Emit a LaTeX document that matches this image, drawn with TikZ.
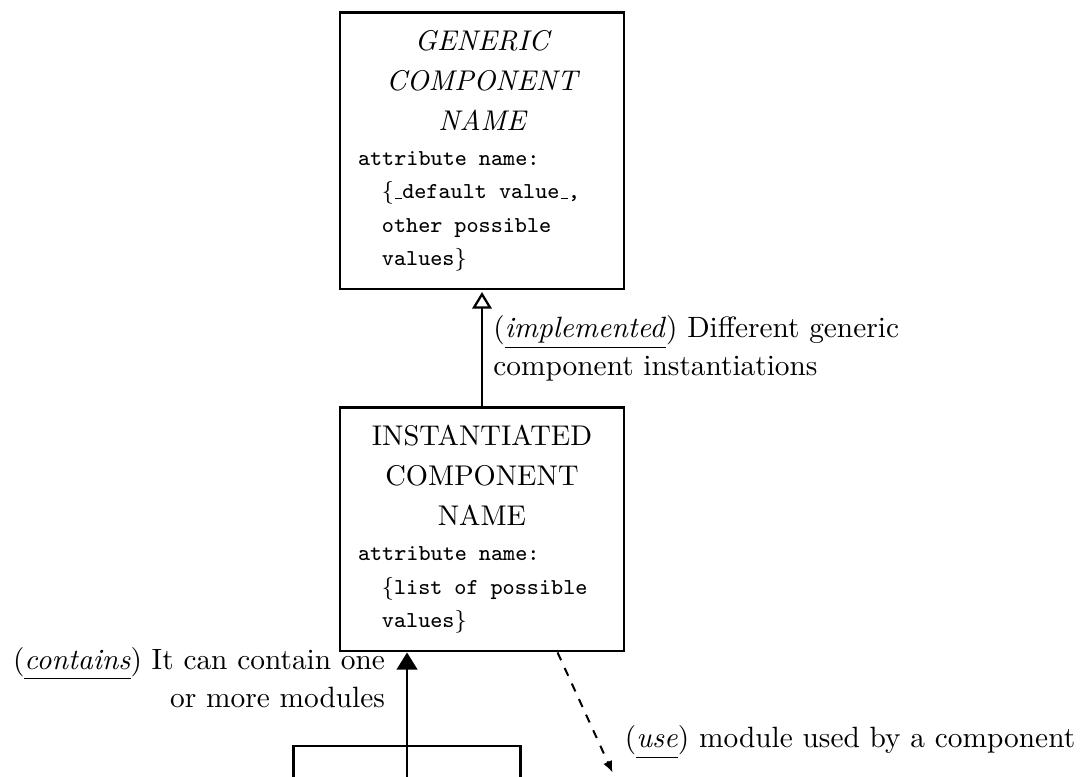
\documentclass[tikz,border=0pt]{standalone}
\usepackage{tikz}
\usetikzlibrary{positioning,arrows.meta,calc}

% tt attribute lines and the short low bar round a default value
\newcommand{\attrtt}{\fontsize{8}{11.7}\selectfont\ttfamily
  \spaceskip=4.2pt\relax\xspaceskip=4.2pt\relax}
\newcommand{\lowbar}{\leavevmode\kern.06em\vbox{\hrule width.3em}}
\newcommand{\uterm}[1]{\underline{\textit{#1}\vphantom{p}}}

\begin{document}
\begin{tikzpicture}[
  font=\fontsize{10}{14}\selectfont,
  comp/.style={draw=black, line width=0.9pt, minimum width=99.6pt, text width=87pt,
               inner xsep=6pt, inner ysep=6.3pt, align=left},
  module/.style={draw=black, line width=0.9pt, minimum width=79.6pt, minimum height=40pt},
  impl/.style={-{Triangle[open, length=5.8pt, width=6.8pt]}, line width=0.8pt, shorten >=0.6pt},
  cont/.style={-{Triangle[length=6pt, width=7.2pt]}, line width=0.8pt},
  usearr/.style={-{Latex[length=4pt, width=3.4pt]}, dashed, line width=0.7pt},
  lbl/.style={font=\fontsize{10.3}{13.3}\selectfont},
]
\useasboundingbox (0,0) rectangle (379.6pt,-272.3pt);
\clip (0,0) rectangle (379.6pt,-272.3pt);

% ---- generic component ----
\node[comp, anchor=north] (gen) at (169.1pt,-3.9pt)
  {{\centering\itshape GENERIC\\COMPONENT\\NAME\par}\vspace{0.6pt}
   {\attrtt attribute name:\\
    \hspace*{8.4pt}$\{$\lowbar default value\lowbar,\\
    \hspace*{8.4pt}other possible\\
    \hspace*{8.4pt}values$\}$\par}};

% ---- instantiated component ----
\node[comp, below=40.7pt of gen] (inst)
  {{\centering INSTANTIATED\\COMPONENT\\NAME\par}\vspace{0.6pt}
   {\attrtt attribute name:\\
    \hspace*{8.4pt}$\{$list of possible\\
    \hspace*{8.4pt}values$\}$\par}};

% ---- module (cut by the page edge) ----
\node[module, below=32.3pt of inst, xshift=-26.3pt] (module) {};

% ---- flows ----
\draw[impl] (inst) -- node[lbl, right, align=left, inner xsep=3.6pt]
  {(\uterm{implemented}) Different generic\\component instantiations} (gen);
\draw[cont] (module.center) -- (module.center |- inst.south)
  node[lbl, anchor=north east, align=right, xshift=-4pt, yshift=5.6pt]
  {(\uterm{contains}) It can contain one\\or more modules};

\coordinate (usefrom) at ([xshift=26.5pt]inst.south);
\coordinate (useto) at ($(usefrom)+(19.3pt,-42.1pt)$);
\draw[usearr] (usefrom) -- node[lbl, pos=0.75, right=5.5pt]
  {(\uterm{use}) module used by a component} (useto);
\end{tikzpicture}
\end{document}
